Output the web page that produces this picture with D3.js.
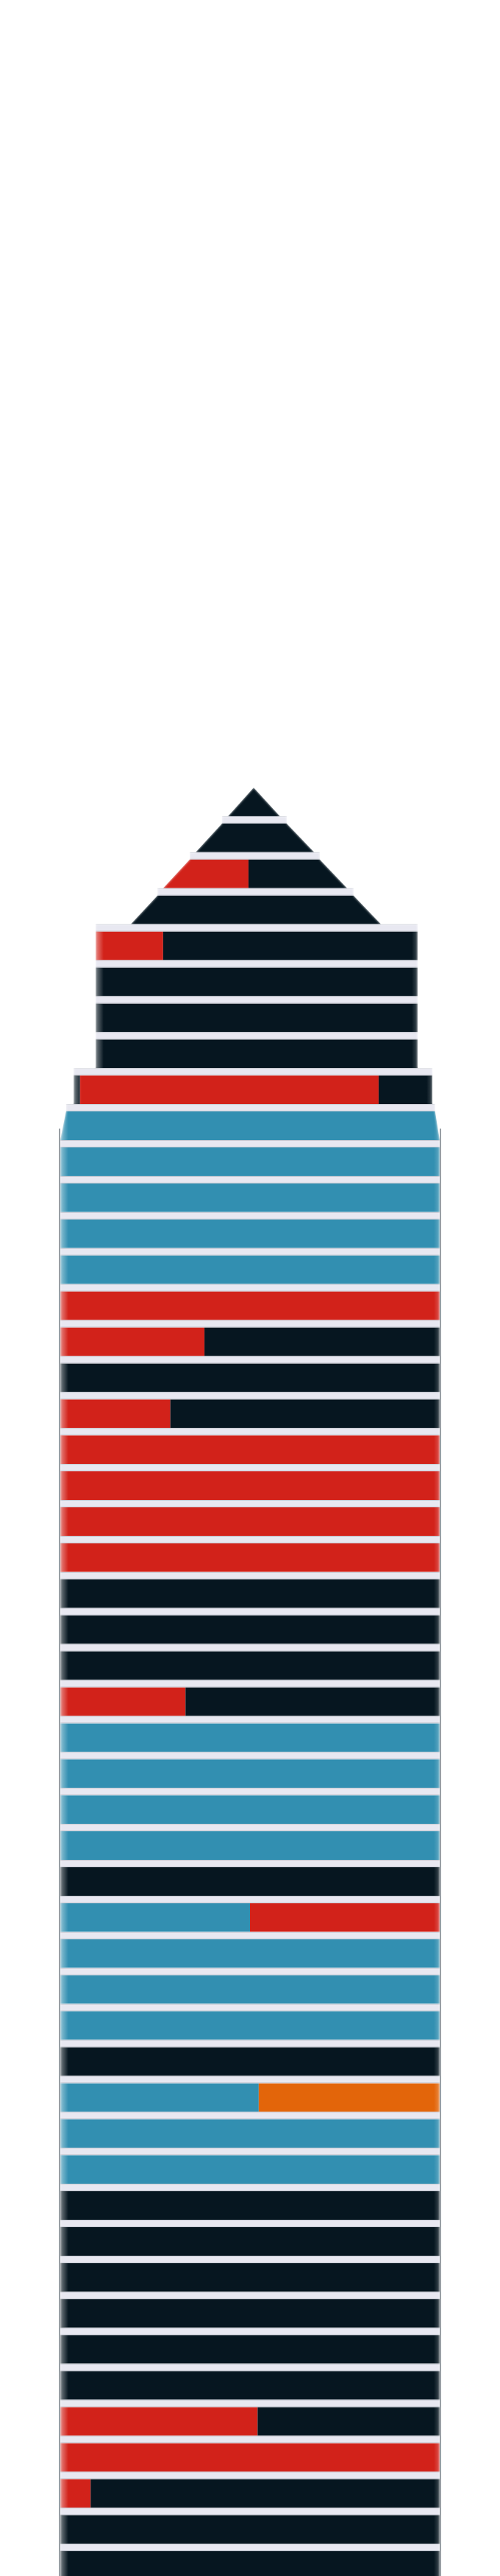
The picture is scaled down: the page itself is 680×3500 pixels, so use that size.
<!DOCTYPE html>
<html>
<head>
<meta charset="utf-8">
<script src="https://cdn.jsdelivr.net/npm/d3@7"></script>
<style>
  html, body { margin: 0; padding: 0; background: #ffffff; }
  svg { display: block; }
</style>
</head>
<body>
<div id="chart"></div>
<script>
// ---- data (top floor first) ----
const floorLabels = [50,49,48,47,46,45,44,43,42,41,40,39,38,37,36,35,34,33,32,31,30,29,28,27,26,
                     25,24,23,22,21,20,19,18,17,16,15,14,13,12,11,10,9,8,7,6,5,4,3,2,1];

// floor outline in building units (0..100 = width of the main body)
const leftTop     = [50.97,42.6,34.1,25.6, 9.3,9.3,9.3,9.3, 3.5, 1.5, 0,0,0,0,0,0,0,0,0,0,0,0,0,0,0,0,0,0,0,0,0,0,0,0,0,0,0,0,0,0,0,0,0,0,0,0,0,0,0,0];
const rightTop    = [50.97,59.7,68.4,77.3, 94.2,94.2,94.2,94.2, 98.1, 98.8, 100,100,100,100,100,100,100,100,100,100,100,100,100,100,100,100,100,100,100,100,100,100,100,100,100,100,100,100,100,100,100,100,100,100,100,100,100,100,100,100];
const leftBottom  = [44.2,35.7,27.1,18.6, 9.3,9.3,9.3,9.3, 3.5, 0, 0,0,0,0,0,0,0,0,0,0,0,0,0,0,0,0,0,0,0,0,0,0,0,0,0,0,0,0,0,0,0,0,0,0,0,0,0,0,0,0];
const rightBottom = [57.9,66.9,75.6,84.5, 94.2,94.2,94.2,94.2, 98.1, 100, 100,100,100,100,100,100,100,100,100,100,100,100,100,100,100,100,100,100,100,100,100,100,100,100,100,100,100,100,100,100,100,100,100,100,100,100,100,100,100,100];

// segment widths per floor, drawn left to right: black lead, blue, red, orange; black fills the rest
const blackLead = [0,0,0,0,0,0,0,0,1.7,0, 0,0,0,0,0,0,0,0,0,0, 0,0,0,0,0,0,0,0,0,0, 0,0,0,0,0,0,0,0,0,0, 0,0,0,0,0,0,0,0,0,0];
const blueW     = [0,0,0,0,0,0,0,0,0,100, 100,100,100,100,0,0,0,0,0,0, 0,0,0,0,0,0,100,100,100,100, 0,50,100,100,100,0,52.3,100,100,0, 0,0,0,0,0,0,0,0,0,0];
const redW      = [0,0,22.5,0,17.8,0,0,0,78.7,0, 0,0,0,0,100,38,0,29,100,100, 100,100,0,0,0,33,0,0,0,0, 0,50,0,0,0,0,0,0,0,0, 0,0,0,0,0,52,100,8,0,0];
const orangeW   = [0,0,0,0,0,0,0,0,0,0, 0,0,0,0,0,0,0,0,0,0, 0,0,0,0,0,0,0,0,0,0, 0,0,0,0,0,0,47.7,0,0,0, 0,0,0,0,0,0,0,0,0,0];

const colors = { black: "#061620", blue: "#328fb1", red: "#d2221a", orange: "#e3650a" };
const stripColor = "#e8e8f1";

// ---- layout ----
const W = 680, H = 3500;
const svg = d3.select("#chart").append("svg").attr("width", W).attr("height", H);

const x = d3.scaleLinear().domain([0, 100]).range([82, 598]);
const y = d3.scaleBand().domain(floorLabels).range([1070, 3505]).paddingInner(0.2045).paddingOuter(0);
const bw = y.bandwidth();
const gap = y.step() - bw;
const n = floorLabels.length;

const defs = svg.append("defs");
defs.append("filter").attr("id", "soft").attr("filterUnits", "userSpaceOnUse")
  .attr("x", 0).attr("y", 0).attr("width", W).attr("height", H + 100)
  .append("feGaussianBlur").attr("stdDeviation", 1.7);
defs.append("filter").attr("id", "soft2").attr("filterUnits", "userSpaceOnUse")
  .attr("x", 0).attr("y", 0).attr("width", W).attr("height", H + 100)
  .append("feGaussianBlur").attr("stdDeviation", 0.7);

// left / right edge fades
const gl = defs.append("linearGradient").attr("id", "fadeL").attr("x1", 0).attr("x2", 1).attr("y1", 0).attr("y2", 0);
gl.append("stop").attr("offset", 0).attr("stop-color", "#fff").attr("stop-opacity", 0.45);
gl.append("stop").attr("offset", 1).attr("stop-color", "#fff").attr("stop-opacity", 0);
const gr = defs.append("linearGradient").attr("id", "fadeR").attr("x1", 0).attr("x2", 1).attr("y1", 0).attr("y2", 0);
gr.append("stop").attr("offset", 0).attr("stop-color", "#fff").attr("stop-opacity", 0);
gr.append("stop").attr("offset", 1).attr("stop-color", "#fff").attr("stop-opacity", 0.22);

// silhouette built from floor outlines
const pts = [];
floorLabels.forEach((f, i) => {
  const t = y(f), b = t + bw;
  if (i > 0) pts.push([x(leftTop[i]), t - gap]);
  pts.push([x(leftTop[i]), t]);
  pts.push([x(leftBottom[i]), b]);
});
pts.push([x(leftBottom[n - 1]), H + 40]);
pts.push([x(rightBottom[n - 1]), H + 40]);
for (let i = n - 1; i >= 0; i--) {
  const t = y(floorLabels[i]), b = t + bw;
  pts.push([x(rightBottom[i]), b]);
  pts.push([x(rightTop[i]), t]);
  if (i > 0) pts.push([x(rightTop[i]), t - gap]);
}
const silPath = d3.line()(pts) + "Z";

defs.append("mask").attr("id", "bmask").attr("maskUnits", "userSpaceOnUse")
  .attr("x", 0).attr("y", 0).attr("width", W).attr("height", H + 100)
  .append("path").attr("d", silPath).attr("fill", "#fff").attr("filter", "url(#soft)");

// thin grey edge lines of the main body
const firstBody = 9;
const edgeTop = y(floorLabels[firstBody]) + bw * 0.6;
svg.append("g").attr("filter", "url(#soft2)")
  .selectAll("line").data([0, 100]).join("line")
  .attr("x1", d => x(d) + (d === 0 ? -1 : 1)).attr("x2", d => x(d) + (d === 0 ? -1 : 1))
  .attr("y1", edgeTop).attr("y2", H + 20)
  .attr("stroke", "#7f878e").attr("stroke-width", 1.6);

const g = svg.append("g").attr("mask", "url(#bmask)");

// lavender strips between floors
g.append("g").selectAll("rect").data(floorLabels.slice(1)).join("rect")
  .attr("x", (f, k) => x(leftTop[k + 1]))
  .attr("width", (f, k) => x(rightTop[k + 1]) - x(leftTop[k + 1]))
  .attr("y", f => y(f) - gap)
  .attr("height", gap)
  .attr("fill", stripColor);

// faint borders of the strips
g.append("g").selectAll("path").data(floorLabels.slice(1)).join("path")
  .attr("d", (f, k) => {
    const a = x(leftTop[k + 1]), b = x(rightTop[k + 1]), t = y(f);
    return `M${a},${t - gap + 0.5}H${b}M${a},${t - 0.5}H${b}`;
  })
  .attr("stroke", "#9aa0aa").attr("stroke-opacity", 0.45).attr("stroke-width", 1).attr("fill", "none");

// floors
floorLabels.forEach((f, i) => {
  const t = y(f), b = t + bw;
  const clipId = "fl" + i;
  defs.append("clipPath").attr("id", clipId).append("path")
    .attr("d", d3.line()([[x(leftTop[i]), t], [x(rightTop[i]), t], [x(rightBottom[i]), b], [x(leftBottom[i]), b]]) + "Z");
  const left = Math.min(leftTop[i], leftBottom[i]);
  const right = Math.max(rightTop[i], rightBottom[i]);
  const segs = [];
  let cur = left;
  [["black", blackLead[i]], ["blue", blueW[i]], ["red", redW[i]], ["orange", orangeW[i]]].forEach(([c, w]) => {
    if (w > 0) { segs.push({ c, a: cur, b: Math.min(cur + w, right) }); cur += w; }
  });
  if (cur < right) segs.push({ c: "black", a: cur, b: right });
  const fg = g.append("g").attr("clip-path", `url(#${clipId})`);
  fg.selectAll("rect").data(segs).join("rect")
    .attr("x", d => x(d.a)).attr("width", d => x(d.b) - x(d.a))
    .attr("y", t).attr("height", bw)
    .attr("fill", d => colors[d.c]);
  if (i >= 4) {
    fg.append("rect").attr("x", x(left)).attr("width", 11).attr("y", t).attr("height", bw).attr("fill", "url(#fadeL)");
    fg.append("rect").attr("x", x(right) - 8).attr("width", 8).attr("y", t).attr("height", bw).attr("fill", "url(#fadeR)");
  }
});
</script>
</body>
</html>
